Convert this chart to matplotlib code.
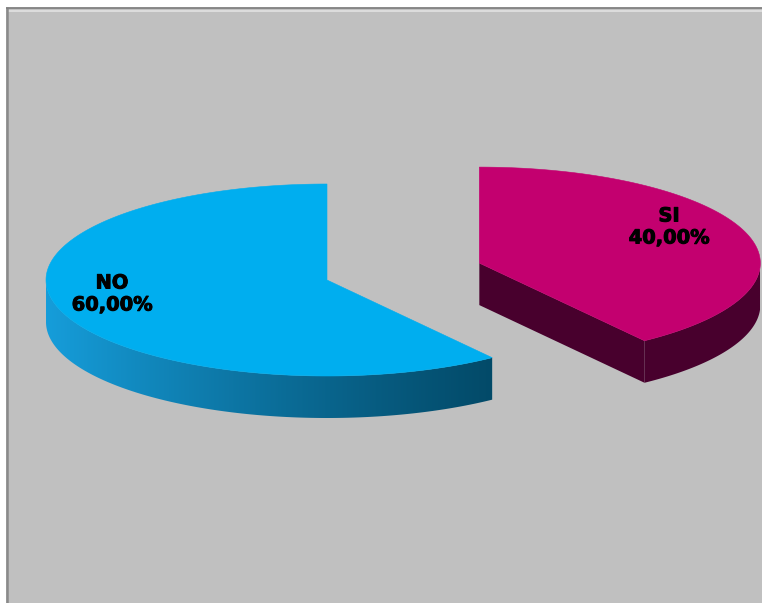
import numpy as np
import matplotlib.pyplot as plt
import matplotlib.patheffects as pe
from matplotlib.patches import Polygon, Rectangle
from matplotlib.colors import to_rgb

# ====== DATA ======
labels = ["NO", "SI"]
values = [60, 40]
explode = [0.0, 0.57]
top_colors = ["#00AEEF", "#C3006F"]
side_light = ["#169DDA", "#4C0030"]
side_dark = ["#003E58", "#48002D"]
label_pos = [(112, 294), (669, 227)]

# ====== GEOMETRY (pixels) ======
W, H = 762, 603
CX, CY = 327, 280
A, B = 281, 96
DEPTH = 42
START = 90.0

fig = plt.figure(figsize=(W / 100, H / 100), dpi=100)
ax = fig.add_axes([0, 0, 1, 1])
ax.set_xlim(0, W)
ax.set_ylim(H, 0)
ax.axis("off")
fig.patch.set_facecolor("white")

# chart area (border only on top and left, the rest runs off the image)
ax.add_patch(Rectangle((6, 8), W + 40, H + 40, facecolor="#C0C0C0", edgecolor="none",
                       lw=0, zorder=0, clip_on=False))
ax.plot([6.5, 6.5], [7, H + 5], color="#8A8A8A", lw=1.8, zorder=0.6,
        solid_capstyle="butt", clip_on=False)
ax.plot([6, W + 5], [7.5, 7.5], color="#808080", lw=1.3, zorder=0.6,
        solid_capstyle="butt", clip_on=False)
ax.plot([8, W + 5], [10.5, 10.5], color="#E2E2E2", lw=1.2, zorder=0.5,
        solid_capstyle="butt", clip_on=False)


def pt(cx, cy, th, dz=0.0):
    return cx + A * np.cos(th), cy - B * np.sin(th) + dz


total = sum(values)
angle = START
for i, v in enumerate(values):
    span = 360.0 * v / total
    t0, t1 = np.radians(angle), np.radians(angle + span)
    mid = (t0 + t1) / 2
    cx = CX + explode[i] * A * np.cos(mid)
    cy = CY - explode[i] * B * np.sin(mid)
    angle += span

    # radial faces turned towards the viewer
    for t, vis in ((t0, np.cos(t0) > 1e-6), (t1, np.cos(t1) < -1e-6)):
        if vis:
            rx, ry = pt(cx, cy, t)
            ax.add_patch(Polygon([(cx, cy), (rx, ry), (rx, ry + DEPTH), (cx, cy + DEPTH)],
                                 closed=True, facecolor=side_dark[i], edgecolor="none",
                                 zorder=2))

    # outer wall, front half only, filled with a left-to-right gradient
    wall_t = np.linspace(t0, t1, 600)
    wall_t = wall_t[np.sin(wall_t) <= 1e-9]
    if len(wall_t) > 1:
        xs, ys = pt(cx, cy, wall_t)
        poly = list(zip(xs, ys)) + list(zip(xs[::-1], ys[::-1] + DEPTH))
        wall = Polygon(poly, closed=True, facecolor="none", edgecolor="none", zorder=2)
        ax.add_patch(wall)
        gx = np.linspace(cx - A, cx + A, 256)
        f = ((cx + A - gx) / (2 * A)) ** 1.3
        c_l, c_d = np.array(to_rgb(side_light[i])), np.array(to_rgb(side_dark[i]))
        grad = c_d[None, :] + (c_l - c_d)[None, :] * f[:, None]
        img = ax.imshow(grad[None, :, :], extent=(cx - A, cx + A, cy + B + DEPTH + 5,
                                                  cy - B - 5),
                        aspect="auto", interpolation="bilinear", zorder=2)
        img.set_clip_path(wall)

    # top face
    th = np.linspace(t0, t1, 400)
    xs, ys = pt(cx, cy, th)
    ax.add_patch(Polygon([(cx, cy)] + list(zip(xs, ys)), closed=True,
                         facecolor=top_colors[i], edgecolor=top_colors[i], lw=0.4, zorder=3))

    pct = f"{v / total * 100:.2f}".replace(".", ",") + "%"
    lx, ly = label_pos[i]
    ax.text(lx, ly, f"{labels[i]}\n{pct}", ha="center", va="center", fontsize=14,
            fontweight="bold", color="black", linespacing=1.2, zorder=5,
            path_effects=[pe.withStroke(linewidth=0.7, foreground="black")])

ax.set_xlim(0, W)
ax.set_ylim(H, 0)
fig.savefig("out.png", dpi=100, facecolor="white")
